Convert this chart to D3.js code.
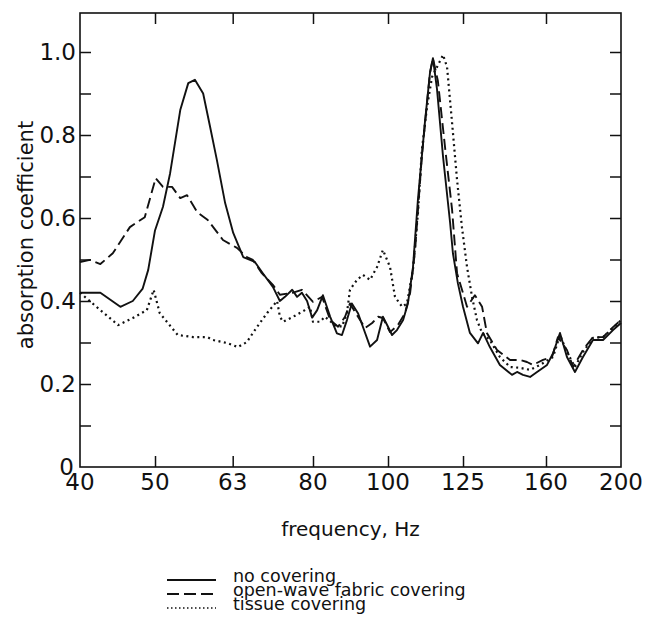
<!DOCTYPE html>
<html>
<head>
<meta charset="utf-8">
<script src="https://cdn.jsdelivr.net/npm/d3@7"></script>
<style>
    body { margin: 0; background: #fff; }
    svg text { font-family: "DejaVu Sans", sans-serif; fill: #111; }
</style>
</head>
<body>
<div id="chart"></div>
<script>
// absorption coefficient vs frequency, three coverings

const freqTicks = [40, 50, 63, 80, 100, 125, 160, 200];
const absTicks = [0, 0.2, 0.4, 0.6, 0.8, 1.0];
const minorAbsTicks = [0.1, 0.2, 0.3, 0.4, 0.5, 0.6, 0.7, 0.8, 0.9, 1.0];

const noCoveringHz = [40, 42.5, 45.1, 46.8, 48.2, 49.0, 50.0, 51.2, 52.3, 53.9, 55.2, 56.3, 57.7, 58.9, 60.1, 61.6,
    63.1, 65.0, 67.3, 68.9, 71.0, 72.5, 73.6, 75.2, 76.3, 77.4, 78.6, 79.8, 81.0, 82.4, 84.2, 85.9, 87.2, 88.5,
    89.8, 91.5, 92.8, 94.8, 96.8, 98.5, 100.0, 101.2, 102.7, 104.6, 106.1, 107.7, 109.3, 111.6, 113.3, 114.3,
    115.7, 117.8, 120.3, 121.3, 123.1, 125.0, 127.6, 130.7, 132.7, 135.4, 139.5, 144.6, 146.8, 149.4, 152.6,
    155.8, 160.5, 163.4, 166.8, 170.3, 174.4, 178.6, 184.0, 189.6, 195.3, 200];
const noCoveringAbs = [0.42, 0.42, 0.386, 0.40, 0.43, 0.475, 0.57, 0.627, 0.708, 0.86, 0.925, 0.933, 0.90, 0.82, 0.74, 0.636,
    0.564, 0.506, 0.494, 0.467, 0.434, 0.40, 0.41, 0.427, 0.41, 0.42, 0.40, 0.36, 0.378, 0.414, 0.362, 0.322, 0.318, 0.354,
    0.394, 0.37, 0.338, 0.29, 0.306, 0.362, 0.338, 0.318, 0.33, 0.354, 0.394, 0.48, 0.643, 0.83, 0.95, 0.985,
    0.91, 0.747, 0.588, 0.515, 0.443, 0.386, 0.323, 0.298, 0.323, 0.289, 0.246, 0.222, 0.229, 0.222, 0.217,
    0.229, 0.246, 0.274, 0.323, 0.265, 0.229, 0.265, 0.306, 0.306, 0.33, 0.347];

const fabricHz = [40, 41.2, 42.5, 44.1, 46.4, 48.5, 50.1, 51.2, 52.6, 53.9, 55.0, 56.7, 58.5, 61.2, 63.8, 65.7, 66.9,
    68.7, 71.0, 72.5, 75.4, 77.4, 80.0, 82.2, 84.2, 86.2, 88.0, 89.3, 91.2, 93.4, 95.4, 97.1, 98.5, 100.6, 103.0,
    105.2, 106.8, 108.4, 110.6, 113.3, 114.3, 116.0, 118.5, 121.0, 122.8, 125.0, 126.5, 129.5, 132.3, 134.2,
    138.3, 143.8, 148.1, 151.2, 153.9, 158.6, 162.9, 165.8, 170.3, 173.4, 178.6, 184.0, 189.6, 195.3, 200];
const fabricAbs = [0.494, 0.499, 0.489, 0.515, 0.578, 0.602, 0.696, 0.675, 0.675, 0.648, 0.655, 0.614, 0.595, 0.547, 0.528, 0.506, 0.499,
    0.467, 0.439, 0.415, 0.42, 0.427, 0.398, 0.41, 0.354, 0.338, 0.362, 0.394, 0.366, 0.335, 0.347, 0.362, 0.359, 0.325, 0.342,
    0.371, 0.419, 0.523, 0.75, 0.95, 0.985, 0.93, 0.77, 0.62, 0.467, 0.419, 0.386, 0.414, 0.386, 0.323,
    0.282, 0.258, 0.258, 0.253, 0.246, 0.258, 0.265, 0.313, 0.282, 0.241, 0.282, 0.313, 0.313, 0.337, 0.354];

const tissueHz = [40, 42.5, 44.8, 46.8, 48.8, 49.8, 50.7, 53.5, 56.0, 58.4, 59.4, 61.9, 64.0, 65.7, 67.7, 69.8, 71.9,
    72.5, 73.2, 75.4, 78.1, 79.3, 80.0, 81.7, 82.9, 85.4, 87.2, 88.5, 89.3, 91.2, 92.8, 94.8, 96.8, 98.5, 100.6,
    102.1, 104.3, 105.8, 107.7, 109.3, 110.6, 112.3, 114.0, 115.7, 117.8, 119.2, 121.0, 122.8, 124.6, 126.5,
    128.4, 130.3, 132.3, 135.4, 139.5, 143.8, 148.1, 152.6, 157.2, 163.4, 166.8, 170.3, 174.4, 178.6, 184.0,
    189.6, 195.3, 200];
const tissueAbs = [0.42, 0.378, 0.342, 0.359, 0.378, 0.427, 0.371, 0.318, 0.313, 0.313, 0.306, 0.299, 0.289, 0.301, 0.337, 0.371, 0.40,
    0.362, 0.35, 0.362, 0.378, 0.386, 0.35, 0.35, 0.362, 0.342, 0.338, 0.371, 0.427, 0.451, 0.463, 0.451, 0.482, 0.523, 0.482,
    0.41, 0.386, 0.394, 0.475, 0.61, 0.764, 0.867, 0.94, 0.964, 0.993, 0.964, 0.829, 0.692, 0.578, 0.482,
    0.41, 0.354, 0.323, 0.306, 0.265, 0.241, 0.239, 0.234, 0.246, 0.265, 0.318, 0.277, 0.241, 0.277, 0.311,
    0.313, 0.335, 0.354];

const seriesNames = ["no covering", "open-wave fabric covering", "tissue covering"];
const seriesDash = ["none", "11,5", "2,3.5"];

const width = 647, height = 633;
const plotLeft = 80, plotRight = 621, plotTop = 13, plotBottom = 467;

const svg = d3.select("#chart")
    .append("svg")
    .attr("width", width)
    .attr("height", height);

const x = d3.scaleLog().domain([40, 200]).range([plotLeft, plotRight]);
const y = d3.scaleLinear().domain([0, (plotBottom - plotTop) / 415]).range([plotBottom, plotTop]);   // 1.0 sits at 54px

// frame
svg.append("rect")
    .attr("x", plotLeft).attr("y", plotTop)
    .attr("width", plotRight - plotLeft).attr("height", plotBottom - plotTop)
    .attr("fill", "none").attr("stroke", "#111").attr("stroke-width", 1.6);

const tickLen = 11;
const innerFreq = freqTicks.slice(1, -1);

svg.append("g").attr("transform", `translate(0,${plotBottom})`)          // bottom ticks, inward
    .call(d3.axisTop(x).tickValues(innerFreq).tickSize(tickLen).tickFormat(""))
    .call(g => g.select(".domain").remove());
svg.append("g").attr("transform", `translate(0,${plotTop})`)             // top ticks, inward
    .call(d3.axisBottom(x).tickValues(innerFreq).tickSize(tickLen).tickFormat(""))
    .call(g => g.select(".domain").remove());
svg.append("g").attr("transform", `translate(${plotLeft},0)`)            // left ticks
    .call(d3.axisRight(y).tickValues(minorAbsTicks).tickSize(tickLen).tickFormat(""))
    .call(g => g.select(".domain").remove());
svg.append("g").attr("transform", `translate(${plotRight},0)`)           // right ticks
    .call(d3.axisLeft(y).tickValues(minorAbsTicks).tickSize(tickLen).tickFormat(""))
    .call(g => g.select(".domain").remove());
svg.selectAll(".tick line").attr("stroke", "#111").attr("stroke-width", 1.5);

// tick labels
svg.append("g").selectAll("text")
    .data(freqTicks)
    .join("text")
    .attr("x", d => x(d))
    .attr("y", 490)
    .attr("text-anchor", "middle")
    .style("font-size", "23px")
    .text(d => d);

svg.append("g").selectAll("text")
    .data(absTicks)
    .join("text")
    .attr("x", d => d === 0 ? 74 : 76)
    .attr("y", d => y(d) + 8.4)
    .attr("text-anchor", "end")
    .style("font-size", "23px")
    .text(d => d === 0 ? "0" : d.toFixed(1));

// axis titles
svg.append("text")
    .attr("x", (plotLeft + plotRight) / 2)
    .attr("y", 536)
    .attr("text-anchor", "middle")
    .style("font-size", "20px")
    .text("frequency, Hz");

svg.append("text")
    .attr("transform", "translate(33,235) rotate(-90)")
    .attr("text-anchor", "middle")
    .style("font-size", "21px")
    .text("absorption coefficient");

// curves
const line = d3.line()
    .x(d => x(d[0]))
    .y(d => y(d[1]));

const series = [
    d3.zip(noCoveringHz, noCoveringAbs),
    d3.zip(fabricHz, fabricAbs),
    d3.zip(tissueHz, tissueAbs)
];

svg.append("g").selectAll("path")
    .data(series)
    .join("path")
    .attr("d", line)
    .attr("fill", "none")
    .attr("stroke", "#111")
    .attr("stroke-width", (d, i) => i === 2 ? 2.2 : 1.9)
    .attr("stroke-dasharray", (d, i) => seriesDash[i])
    .attr("stroke-linejoin", "round");

// legend
const legend = svg.append("g").selectAll("g")
    .data(seriesNames)
    .join("g")
    .attr("transform", (d, i) => `translate(0,${[582, 596, 610][i]})`);

legend.append("line")
    .attr("x1", 167).attr("x2", 216)
    .attr("y1", -2).attr("y2", -2)
    .attr("stroke", "#111")
    .attr("stroke-width", (d, i) => i === 2 ? 1.6 : 1.8)
    .attr("stroke-dasharray", (d, i) => i === 1 ? "12,5" : i === 2 ? "1.5,2.5" : "none");

legend.append("text")
    .attr("x", 233)
    .attr("y", 0)
    .style("font-size", "17.5px")
    .text(d => d);
</script>
</body>
</html>
